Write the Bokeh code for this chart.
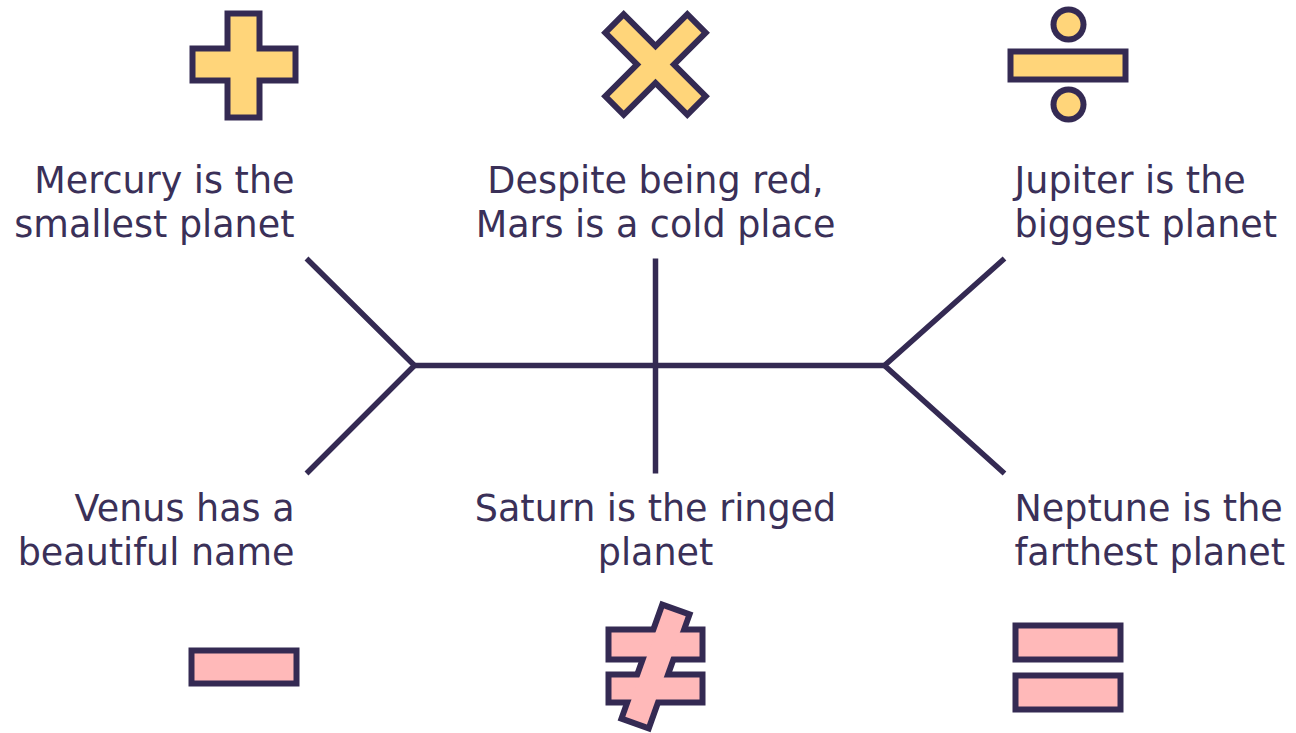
import numpy as np
from bokeh.plotting import figure
from bokeh.models import Range1d, ColumnDataSource
from bokeh.embed import file_html
from bokeh.resources import INLINE
from bokeh.core.properties import value

NAVY = "#342a53"
TEXT = "#3a3058"
YELLOW = "#ffd57a"
PINK = "#ffb9b9"
FONT = "DejaVu Sans"

# ---- content ----
top_lines = [["Mercury is the", "smallest planet"],
             ["Despite being red,", "Mars is a cold place"],
             ["Jupiter is the", "biggest planet"]]
bottom_lines = [["Venus has a", "beautiful name"],
                ["Saturn is the ringed", "planet"],
                ["Neptune is the", "farthest planet"]]
top_icons = ["plus", "times", "divide"]
bottom_icons = ["minus", "notequal", "equal"]

# ---- layout (pixel space, y down) ----
col_anchor_x = [294, 655, 1014]
col_align = ["right", "center", "left"]
top_baselines = [180, 224]
bottom_baselines = [508, 552]

spine = dict(x0=414, x1=884, y=365)
bone_tip_top, bone_tip_bottom = 258, 473
left_tip_x, mid_x, right_tip_x = 306, 655, 1004

W, H = 1296, 733
p = figure(width=W, height=H, output_backend="svg", toolbar_location=None,
           x_range=Range1d(0, W), y_range=Range1d(H, 0),
           min_border=0, outline_line_color=None)
p.axis.visible = False
p.grid.visible = False
p.background_fill_color = "white"
p.border_fill_color = "white"

# ---- bones ----
bx = [[spine["x0"], spine["x1"]],
      [left_tip_x, spine["x0"], left_tip_x],
      [mid_x, mid_x],
      [right_tip_x, spine["x1"], right_tip_x]]
by = [[spine["y"], spine["y"]],
      [bone_tip_top, spine["y"], bone_tip_bottom],
      [bone_tip_top, bone_tip_bottom],
      [bone_tip_top, spine["y"], bone_tip_bottom]]
p.multi_line(bx, by, line_color=NAVY, line_width=5.5, line_join="miter", line_cap="butt")

# ---- texts ----
tx, ty, tt, ta = [], [], [], []
for lines_set, baselines in ((top_lines, top_baselines), (bottom_lines, bottom_baselines)):
    for i, lines in enumerate(lines_set):
        for j, line in enumerate(lines):
            tx.append(col_anchor_x[i]); ty.append(baselines[j]); tt.append(line); ta.append(col_align[i])
src = ColumnDataSource(dict(x=tx, y=ty, text=tt, align=ta))
p.text(x="x", y="y", text="text", text_align="align", source=src,
       text_font=value(FONT), text_font_size="36.5px", text_color=TEXT,
       text_baseline="alphabetic")

# ---- icons ----
def rect_poly(cx, cy, w, h, ang=0.0):
    t = np.deg2rad(ang)
    pts = np.array([[-w / 2, -h / 2], [w / 2, -h / 2], [w / 2, h / 2], [-w / 2, h / 2]])
    R = np.array([[np.cos(t), -np.sin(t)], [np.sin(t), np.cos(t)]])
    q = pts @ R.T
    return list(q[:, 0] + cx), list(q[:, 1] + cy)

# inner shapes (fill area); border drawn outside
icon_shapes = {
    "plus": dict(color=YELLOW, rects=[(243, 65, 26, 98, 0), (243.5, 64, 97, 26, 0)], circles=[]),
    "times": dict(color=YELLOW, rects=[(655, 64, 110, 20, 45), (655, 64, 110, 20, -45)], circles=[]),
    "divide": dict(color=YELLOW, rects=[(1067.5, 65, 109, 22, 0)], circles=[(1068, 24, 12), (1068, 104, 12)]),
    "minus": dict(color=PINK, rects=[(243.5, 666.5, 99, 27, 0)], circles=[]),
    "notequal": dict(color=PINK, rects=[(655, 644, 88, 24, 0), (655, 688, 88, 22, 0), (655, 666, 23, 115, 19.7)], circles=[]),
    "equal": dict(color=PINK, rects=[(1067.5, 642, 99, 28, 0), (1067.5, 692, 99, 28, 0)], circles=[]),
}
B = 6
for name in top_icons + bottom_icons:
    spec = icon_shapes[name]
    xs, ys = [], []
    for r in spec["rects"]:
        a, b = rect_poly(*r)
        xs.append(a); ys.append(b)
    if xs:
        p.patches(xs, ys, fill_color=NAVY, line_color=NAVY, line_width=2 * B, line_join="miter")
    for (cx, cy, r) in spec["circles"]:
        p.circle([cx], [cy], radius=r + B, fill_color=NAVY, line_color=None)
    if xs:
        p.patches(xs, ys, fill_color=spec["color"], line_color=None)
    for (cx, cy, r) in spec["circles"]:
        p.circle([cx], [cy], radius=r, fill_color=spec["color"], line_color=None)

open("out.html", "w").write(file_html(p, INLINE))
